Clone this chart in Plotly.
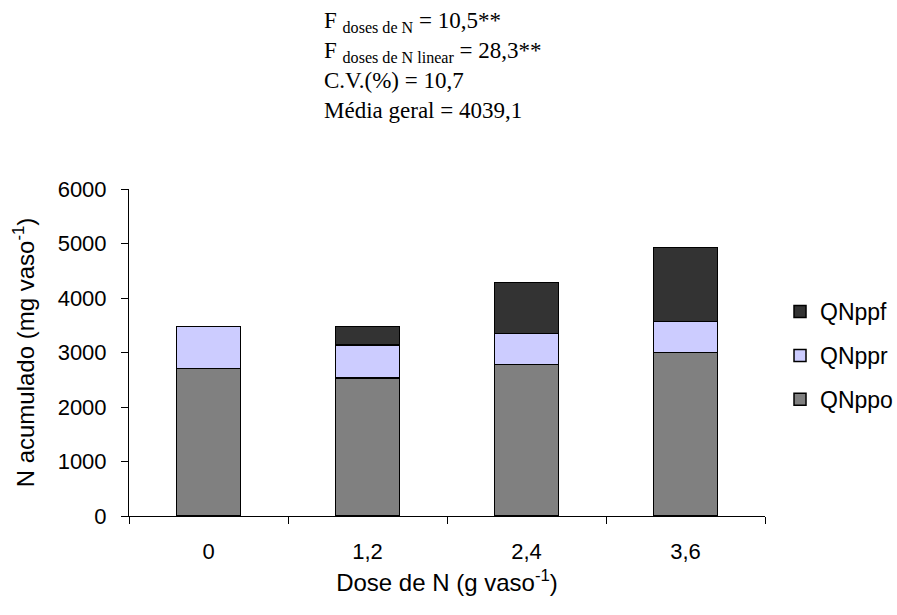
import plotly.graph_objects as go

doses = ["0", "1,2", "2,4", "3,6"]
qnppo = [2710, 2530, 2783, 2997]
qnppr = [764, 612, 569, 569]
qnppf = [0, 332, 935, 1364]

y_ticks = [0, 1000, 2000, 3000, 4000, 5000, 6000]

fig = go.Figure()
line = dict(color="black", width=1.5)
fig.add_bar(x=doses, y=qnppo, name="QNppo", legendgroup="a", legendrank=3,
            marker=dict(color="#808080", line=line))
fig.add_bar(x=doses, y=qnppr, name="QNppr", legendgroup="b", legendrank=2,
            marker=dict(color="#CCCCFF", line=line))
fig.add_bar(x=doses, y=qnppf, name="QNppf", legendgroup="c", legendrank=1,
            marker=dict(color="#333333", line=line))

sans = "Liberation Sans, Arial, sans-serif"
tickfont = dict(family=sans, size=22, color="black")
titlefont = dict(family=sans, size=24, color="black")
legfont = dict(family=sans, size=23, color="black")

fig.update_layout(
    barmode="stack",
    bargap=0.6,
    width=897, height=615,
    margin=dict(l=129, r=132, t=189, b=99, autoexpand=False),
    paper_bgcolor="white", plot_bgcolor="white",
    font=tickfont,
    showlegend=True,
    legend=dict(x=1.0236, y=0.691, xanchor="left", yanchor="top",
                traceorder="grouped", font=legfont, itemwidth=30,
                tracegroupgap=11, borderwidth=0),
    xaxis=dict(type="category", showline=True, linecolor="black", linewidth=1,
               ticks="outside", tickson="boundaries", ticklen=7, tickcolor="black",
               ticklabelstandoff=16, automargin=False,
               title=dict(text="Dose de N (g vaso<sup>-1</sup>)", standoff=10, font=titlefont),
               tickfont=tickfont),
    yaxis=dict(range=[0, 6000], tickvals=y_ticks, showline=True, linecolor="black",
               linewidth=1, ticks="outside", ticklen=7, tickcolor="black",
               ticklabelstandoff=10, automargin=False,
               showgrid=False, zeroline=False,
               title=dict(text="N acumulado (mg vaso<sup>-1</sup>)", standoff=16, font=titlefont),
               tickfont=tickfont),
)

fig.add_annotation(
    xref="paper", yref="paper", x=(322 - 129) / 636, y=(516 - 6) / 327,
    xanchor="left", yanchor="top",
    align="left", showarrow=False,
    font=dict(family="Liberation Serif, Times New Roman, serif", size=23, color="black"),
    text=("F <sub>doses de N</sub> = 10,5**<br>"
          "F <sub>doses de N linear</sub> = 28,3**<br>"
          "C.V.(%) = 10,7<br>"
          "Média geral = 4039,1"),
)

fig.write_html("out.html")
